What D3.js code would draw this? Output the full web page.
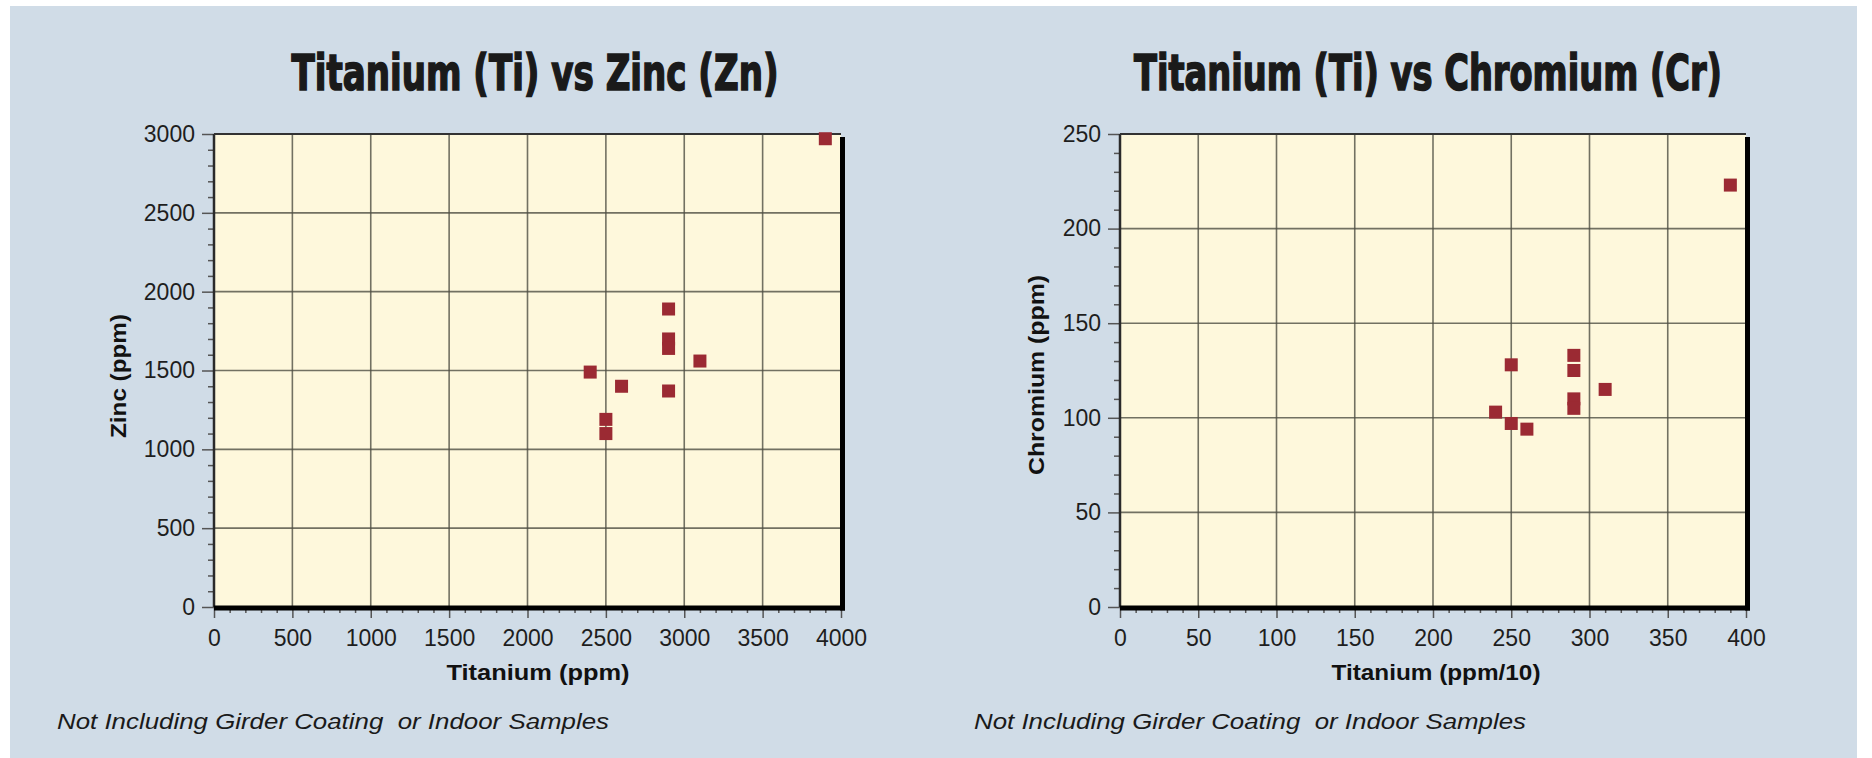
<!DOCTYPE html>
<html>
<head>
<meta charset="utf-8">
<script src="https://cdn.jsdelivr.net/npm/d3@7"></script>
<style>
html, body { margin: 0; padding: 0; background: #fff; }
svg { display: block; }
.axis text { font-family: "Liberation Sans", Arial, sans-serif; font-size: 23px; fill: #1e1e1e; }
.axis line { stroke: #555; stroke-width: 1.5; }
.note { white-space: pre; }
</style>
</head>
<body>
<svg id="chart" width="1872" height="758"></svg>
<script>
// values
const zincTi = [2900, 2900, 2900, 3100, 2400, 2600, 2900, 2500, 2500, 3900];
const zincZn = [1890, 1700, 1640, 1560, 1490, 1400, 1370, 1190, 1100, 2970];

const chromTi = [250, 240, 250, 260, 290, 290, 290, 290, 310, 390];
const chromCr = [128, 103, 97, 94, 133, 125, 110, 105, 115, 223];

const zincXTicks = [0, 500, 1000, 1500, 2000, 2500, 3000, 3500, 4000];
const zincYTicks = [0, 500, 1000, 1500, 2000, 2500, 3000];
const chromXTicks = [0, 50, 100, 150, 200, 250, 300, 350, 400];
const chromYTicks = [0, 50, 100, 150, 200, 250];

const titles = ['Titanium (Ti) vs Zinc (Zn)', 'Titanium (Ti) vs Chromium (Cr)'];
const xTitles = ['Titanium (ppm)', 'Titanium (ppm/10)'];
const yTitles = ['Zinc (ppm)', 'Chromium (ppm)'];
const note = 'Not Including Girder Coating  or Indoor Samples';

const svg = d3.select('#chart');

svg.append('rect')
    .attr('x', 10).attr('y', 6)
    .attr('width', 1847).attr('height', 752)
    .attr('fill', '#d0dce7');

const charts = [
    {
        xs: zincTi, ys: zincZn, xTicks: zincXTicks, yTicks: zincYTicks, minorX: 100, minorY: 100,
        left: 214, right: 841, top: 134, bottom: 607,
        title: titles[0], titleX: 535, titleW: 487,
        xTitle: xTitles[0], xTitleX: 538, xTitleW: 183,
        yTitle: yTitles[0], yTitleX: 126, yTitleY: 376, yTitleW: 124,
        noteX: 57
    },
    {
        xs: chromTi, ys: chromCr, xTicks: chromXTicks, yTicks: chromYTicks, minorX: 10, minorY: 10,
        left: 1120, right: 1746, top: 134, bottom: 607,
        title: titles[1], titleX: 1428, titleW: 588,
        xTitle: xTitles[1], xTitleX: 1436, xTitleW: 209,
        yTitle: yTitles[1], yTitleX: 1044, yTitleY: 375, yTitleW: 200,
        noteX: 974
    }
];

function drawChart(c) {
    const xMax = c.xTicks[c.xTicks.length - 1];
    const yMax = c.yTicks[c.yTicks.length - 1];
    const x = d3.scaleLinear().domain([0, xMax]).range([c.left, c.right]);
    const y = d3.scaleLinear().domain([0, yMax]).range([c.bottom, c.top]);
    const g = svg.append('g');

    g.append('text')
        .attr('x', c.titleX).attr('y', 90)
        .attr('text-anchor', 'middle')
        .attr('textLength', c.titleW)
        .attr('lengthAdjust', 'spacingAndGlyphs')
        .style('font-family', '"DejaVu Sans Condensed", "DejaVu Sans", sans-serif')
        .style('font-weight', 'bold')
        .style('font-size', '50px')
        .attr('fill', '#1a1a1a')
        .attr('stroke', '#1a1a1a')
        .attr('stroke-width', 1.6)
        .text(c.title);

    g.append('rect')
        .attr('x', c.left).attr('y', c.top)
        .attr('width', c.right - c.left).attr('height', c.bottom - c.top)
        .attr('fill', '#fef8dc');

    // grid
    g.append('g').selectAll('line')
        .data(c.xTicks.slice(1, -1))
        .join('line')
        .attr('x1', d => x(d)).attr('x2', d => x(d))
        .attr('y1', c.top).attr('y2', c.bottom)
        .attr('stroke', '#4f4f44').attr('stroke-opacity', 0.8).attr('stroke-width', 1.6);
    g.append('g').selectAll('line')
        .data(c.yTicks.slice(1, -1))
        .join('line')
        .attr('x1', c.left).attr('x2', c.right)
        .attr('y1', d => y(d)).attr('y2', d => y(d))
        .attr('stroke', '#4f4f44').attr('stroke-opacity', 0.8).attr('stroke-width', 1.6);

    // minor ticks
    const minorXs = d3.range(0, xMax + 1e-9, c.minorX).filter(v => !c.xTicks.includes(v));
    const minorYs = d3.range(0, yMax + 1e-9, c.minorY).filter(v => !c.yTicks.includes(v));

    g.append('g').attr('class', 'axis')
        .attr('transform', `translate(${c.left},0)`)
        .call(d3.axisLeft(y).tickValues(minorYs).tickSize(6).tickFormat(''))
        .call(a => a.select('.domain').remove());
    g.append('g').attr('class', 'axis')
        .attr('transform', `translate(0,${c.bottom})`)
        .call(d3.axisBottom(x).tickValues(minorXs).tickSize(6).tickFormat(''))
        .call(a => a.select('.domain').remove());

    // major ticks + labels
    g.append('g').attr('class', 'axis')
        .attr('transform', `translate(${c.left},0)`)
        .call(d3.axisLeft(y).tickValues(c.yTicks).tickSize(12).tickPadding(7).tickFormat(d3.format('d')))
        .call(a => a.select('.domain').remove());
    g.append('g').attr('class', 'axis')
        .attr('transform', `translate(0,${c.bottom})`)
        .call(d3.axisBottom(x).tickValues(c.xTicks).tickSize(11).tickPadding(12).tickFormat(d3.format('d')))
        .call(a => a.select('.domain').remove());

    // frame
    g.append('line')
        .attr('x1', c.left).attr('x2', c.left)
        .attr('y1', c.top).attr('y2', c.bottom)
        .attr('stroke', '#2a2a2a').attr('stroke-width', 2.5);
    g.append('line')
        .attr('x1', c.left).attr('x2', c.right)
        .attr('y1', c.top).attr('y2', c.top)
        .attr('stroke', '#333').attr('stroke-width', 2);
    g.append('line')
        .attr('x1', c.right + 1.5).attr('x2', c.right + 1.5)
        .attr('y1', c.top + 3).attr('y2', c.bottom + 3.5)
        .attr('stroke', '#000').attr('stroke-width', 5);
    g.append('line')
        .attr('x1', c.left).attr('x2', c.right + 4)
        .attr('y1', c.bottom + 1).attr('y2', c.bottom + 1)
        .attr('stroke', '#000').attr('stroke-width', 5);

    // points
    const s = 13;
    g.append('g').selectAll('rect')
        .data(c.xs.map((v, i) => [v, c.ys[i]]))
        .join('rect')
        .attr('x', d => x(d[0]) - s / 2)
        .attr('y', d => y(d[1]) - s / 2)
        .attr('width', s).attr('height', s)
        .attr('fill', '#9b2a33');

    // axis titles
    g.append('text')
        .attr('x', c.xTitleX).attr('y', 680)
        .attr('text-anchor', 'middle')
        .attr('textLength', c.xTitleW)
        .attr('lengthAdjust', 'spacingAndGlyphs')
        .style('font-family', '"Liberation Sans", Arial, sans-serif')
        .style('font-weight', 'bold')
        .style('font-size', '22px')
        .attr('fill', '#111')
        .text(c.xTitle);
    g.append('text')
        .attr('transform', `translate(${c.yTitleX},${c.yTitleY}) rotate(-90)`)
        .attr('text-anchor', 'middle')
        .attr('textLength', c.yTitleW)
        .attr('lengthAdjust', 'spacingAndGlyphs')
        .style('font-family', '"Liberation Sans", Arial, sans-serif')
        .style('font-weight', 'bold')
        .style('font-size', '22px')
        .attr('fill', '#111')
        .text(c.yTitle);

    g.append('text')
        .attr('class', 'note')
        .attr('x', c.noteX).attr('y', 729)
        .attr('textLength', 552)
        .attr('lengthAdjust', 'spacingAndGlyphs')
        .style('font-family', '"Liberation Sans", Arial, sans-serif')
        .style('font-style', 'italic')
        .style('font-size', '22px')
        .attr('fill', '#1a1a1a')
        .text(note);
}

charts.forEach(drawChart);
</script>
</body>
</html>
